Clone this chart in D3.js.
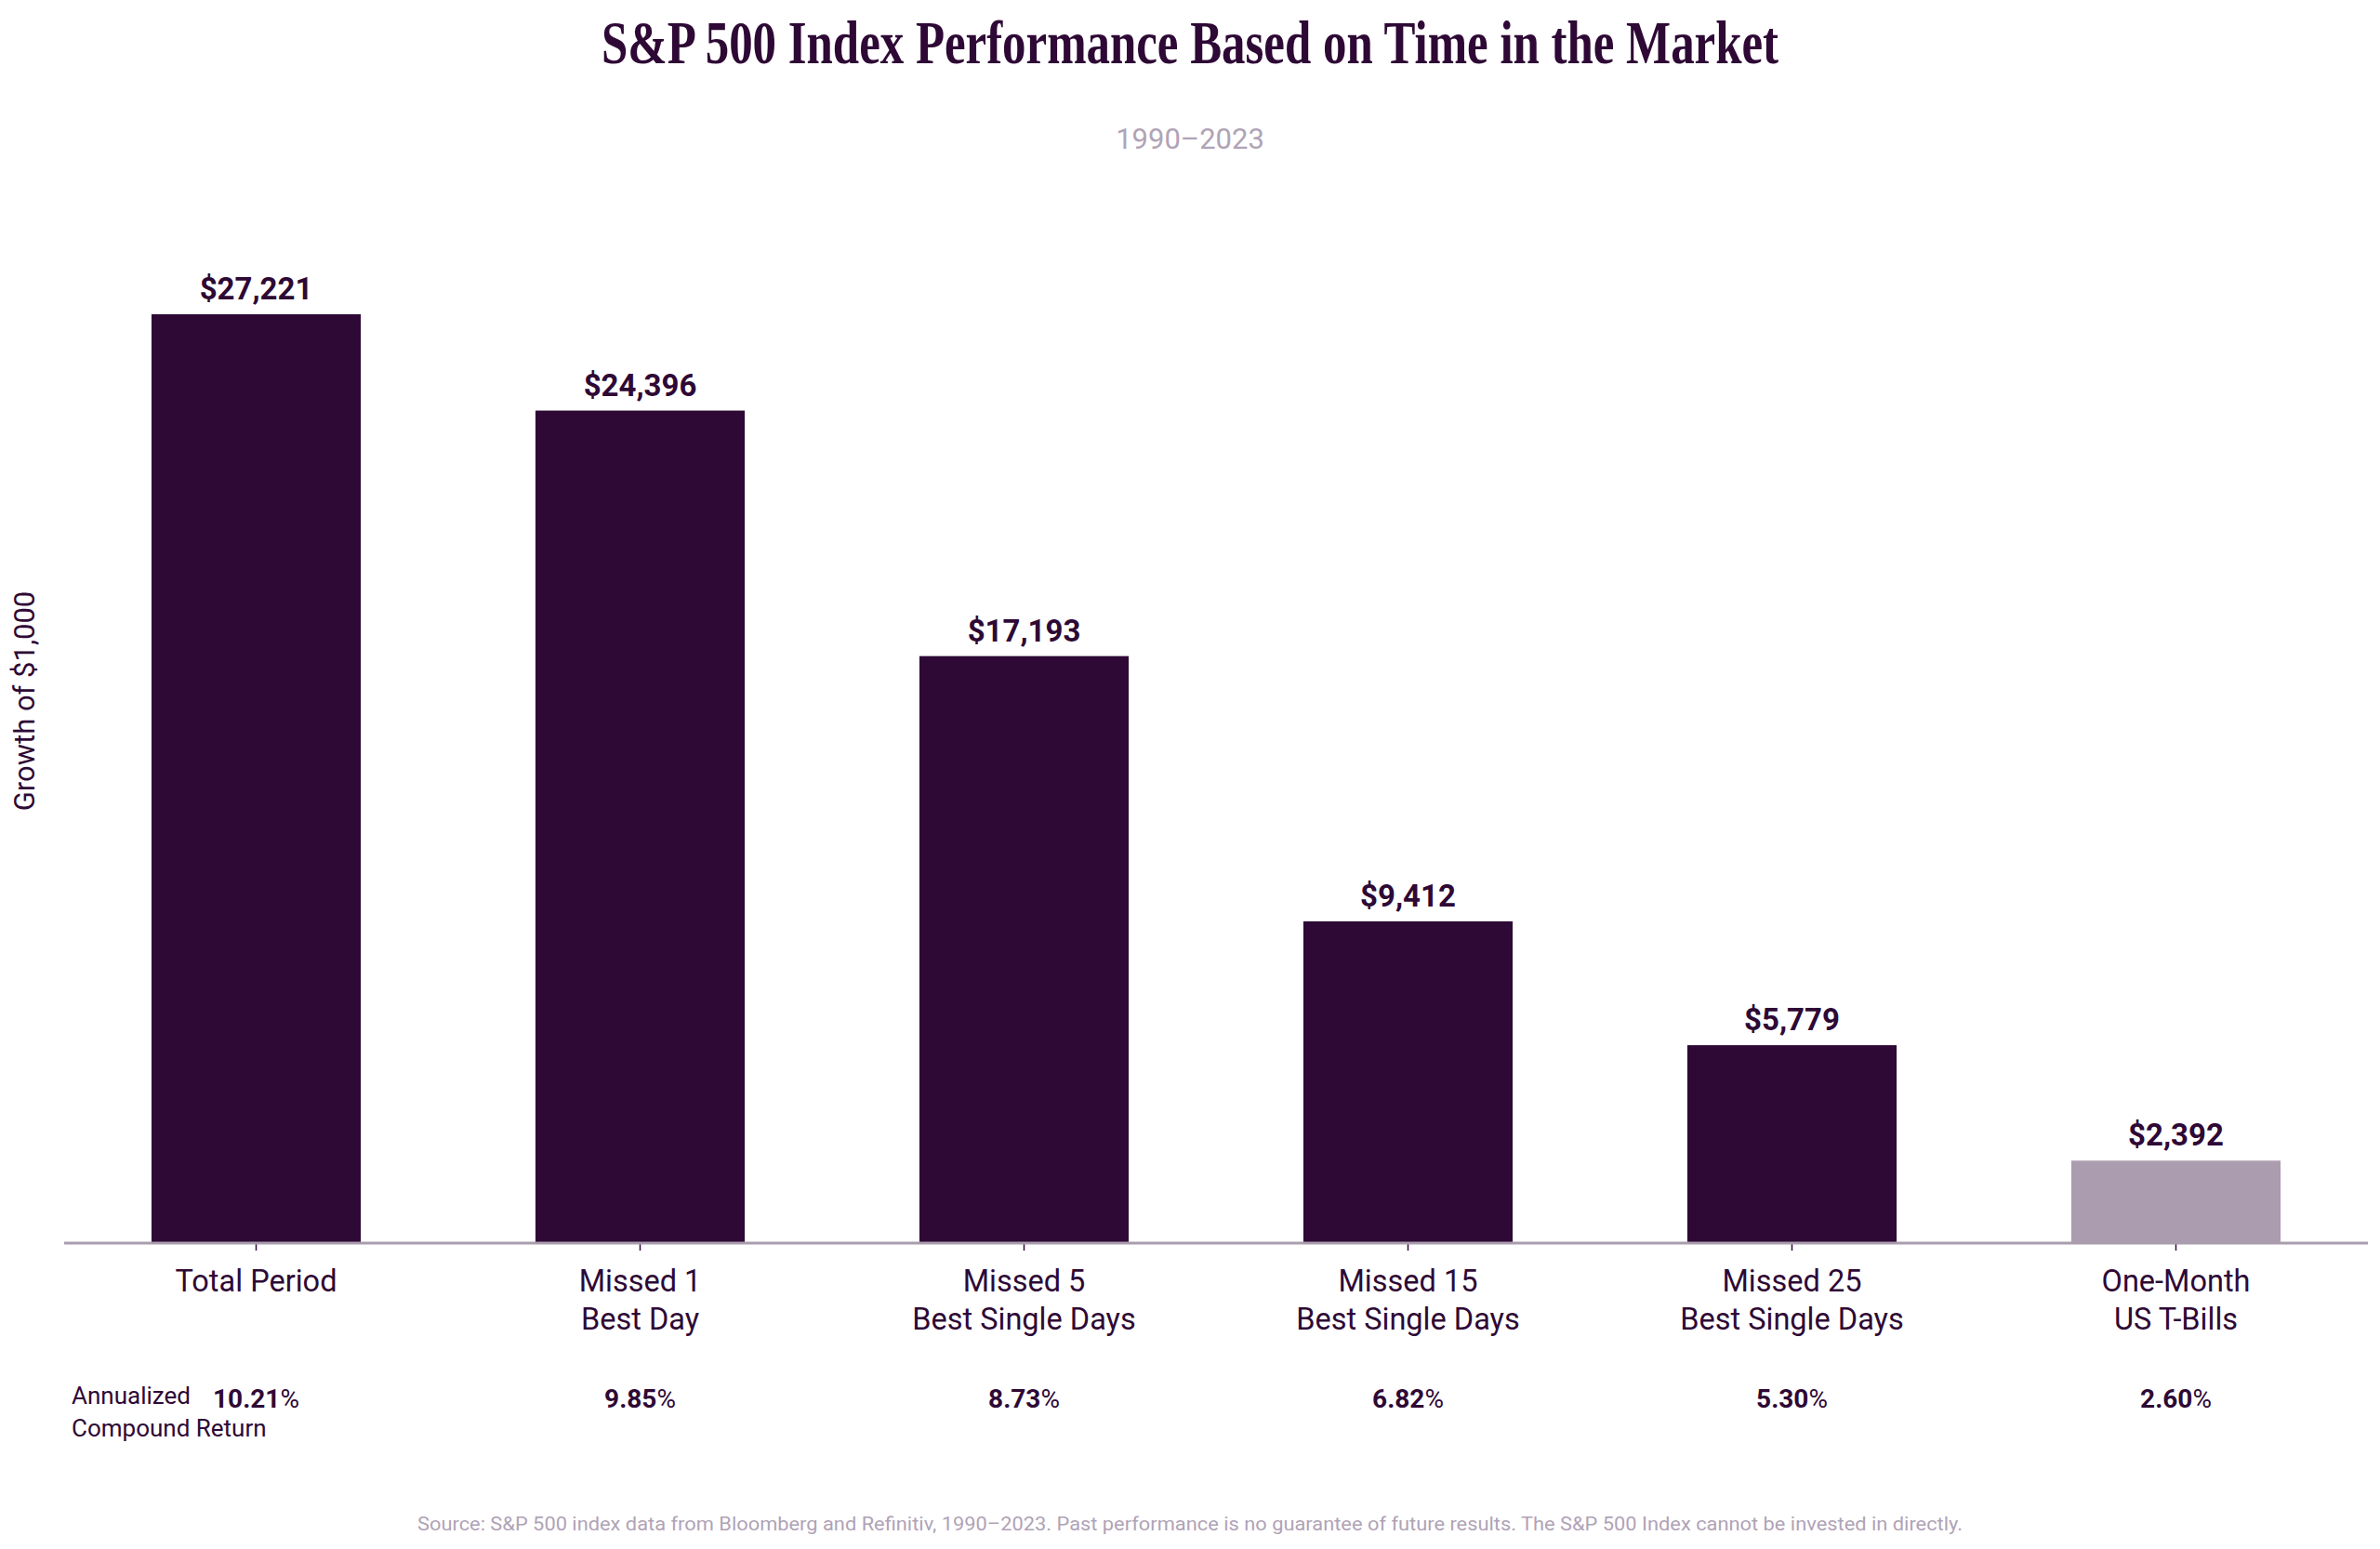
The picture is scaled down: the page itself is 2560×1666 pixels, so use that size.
<!DOCTYPE html>
<html>
<head>
<meta charset="utf-8">
<script src="https://cdn.jsdelivr.net/npm/d3@7"></script>
<style>
  html, body { margin: 0; padding: 0; background: #ffffff; }
  svg { display: block; }
</style>
</head>
<body>
<svg id="chart" width="2560" height="1666"></svg>
<script>
const titleText = "S&P 500 Index Performance Based on Time in the Market";
const subtitleText = "1990–2023";
const yAxisLabel = "Growth of $1,000";
const categories = [
  ["Total Period"],
  ["Missed 1", "Best Day"],
  ["Missed 5", "Best Single Days"],
  ["Missed 15", "Best Single Days"],
  ["Missed 25", "Best Single Days"],
  ["One-Month", "US T-Bills"]
];
const values = [27221, 24396, 17193, 9412, 5779, 2392];
const returns = ["10.21", "9.85", "8.73", "6.82", "5.30", "2.60"];
const isBenchmark = [false, false, false, false, false, true];
const returnLabel = ["Annualized", "Compound Return"];
const sourceText = "Source: S&P 500 index data from Bloomberg and Refinitiv, 1990–2023. Past performance is no guarantee of future results. The S&P 500 Index cannot be invested in directly.";

const DARK = "#2e0935";
const LIGHT = "#ab9caf";
const AXIS = "#a99dae";
const GREY = "#b0a3b6";
const SANS = "Roboto, Inter, 'Noto Sans', sans-serif";

const svg = d3.select("#chart");
const W = 2560;
const margin = { left: 69, right: 13 };
const axisY = 1336;

const x = d3.scaleBand()
  .domain(d3.range(values.length))
  .range([margin.left, W - margin.right])
  .paddingInner(0.455)
  .paddingOuter(0.2275);

const y = d3.scaleLinear()
  .domain([0, 27221])
  .range([axisY, 338]);

// Title
svg.append("text")
  .attr("x", W / 2).attr("y", 68)
  .attr("text-anchor", "middle")
  .attr("font-family", "'Liberation Serif', 'DejaVu Serif', serif")
  .attr("font-weight", 700)
  .attr("font-size", 66)
  .attr("textLength", 1266)
  .attr("lengthAdjust", "spacingAndGlyphs")
  .attr("fill", DARK)
  .text(titleText);

// Subtitle
svg.append("text")
  .attr("x", W / 2).attr("y", 160)
  .attr("text-anchor", "middle")
  .attr("font-family", SANS)
  .attr("font-size", 31)
  .attr("fill", GREY)
  .text(subtitleText);

// Bars
svg.append("g").selectAll("rect")
  .data(values)
  .join("rect")
  .attr("x", (d, i) => x(i))
  .attr("width", x.bandwidth())
  .attr("y", d => y(d))
  .attr("height", d => y(0) - y(d))
  .attr("fill", (d, i) => isBenchmark[i] ? LIGHT : DARK);

// Value labels
svg.append("g").selectAll("text")
  .data(values)
  .join("text")
  .attr("x", (d, i) => x(i) + x.bandwidth() / 2)
  .attr("y", d => y(d) - 16)
  .attr("text-anchor", "middle")
  .attr("font-family", SANS)
  .attr("font-weight", 700)
  .attr("font-size", 33)
  .attr("fill", DARK)
  .text(d => "$" + d3.format(",")(d));

// X axis
const xAxis = d3.axisBottom(x).tickSize(9).tickFormat(() => "");
const gx = svg.append("g").attr("transform", `translate(0,${axisY})`).call(xAxis);
gx.select(".domain").remove();
gx.selectAll(".tick line").attr("stroke", DARK).attr("stroke-width", 1.5);
svg.append("line")
  .attr("x1", margin.left).attr("x2", W - margin.right)
  .attr("y1", axisY + 1).attr("y2", axisY + 1)
  .attr("stroke", AXIS).attr("stroke-width", 3);

// Category labels
const cat = svg.append("g").selectAll("text")
  .data(categories)
  .join("text")
  .attr("text-anchor", "middle")
  .attr("font-family", SANS)
  .attr("font-size", 32.5)
  .attr("fill", DARK);
cat.selectAll("tspan")
  .data((d, i) => d.map(line => ({ line, i })))
  .join("tspan")
  .attr("x", d => x(d.i) + x.bandwidth() / 2)
  .attr("y", (d, j) => 1389 + j * 41)
  .text(d => d.line);

// Returns row
const ret = svg.append("g").selectAll("text")
  .data(returns)
  .join("text")
  .attr("x", (d, i) => x(i) + x.bandwidth() / 2)
  .attr("y", 1514)
  .attr("text-anchor", "middle")
  .attr("font-family", SANS)
  .attr("font-size", 28)
  .attr("fill", DARK);
ret.append("tspan").attr("font-weight", 700).text(d => d);
ret.append("tspan").attr("font-weight", 400).text("%");

svg.append("g").selectAll("text")
  .data(returnLabel)
  .join("text")
  .attr("x", 77)
  .attr("y", (d, i) => 1510 + i * 35)
  .attr("font-family", SANS)
  .attr("font-size", 26)
  .attr("fill", DARK)
  .text(d => d);

// Y axis label
svg.append("text")
  .attr("transform", `translate(37,754) rotate(-90)`)
  .attr("text-anchor", "middle")
  .attr("font-family", SANS)
  .attr("font-size", 31)
  .attr("fill", DARK)
  .text(yAxisLabel);

// Source
svg.append("text")
  .attr("x", W / 2).attr("y", 1646)
  .attr("text-anchor", "middle")
  .attr("font-family", SANS)
  .attr("font-size", 20)
  .attr("textLength", 1662)
  .attr("lengthAdjust", "spacingAndGlyphs")
  .attr("fill", GREY)
  .text(sourceText);
</script>
</body>
</html>
